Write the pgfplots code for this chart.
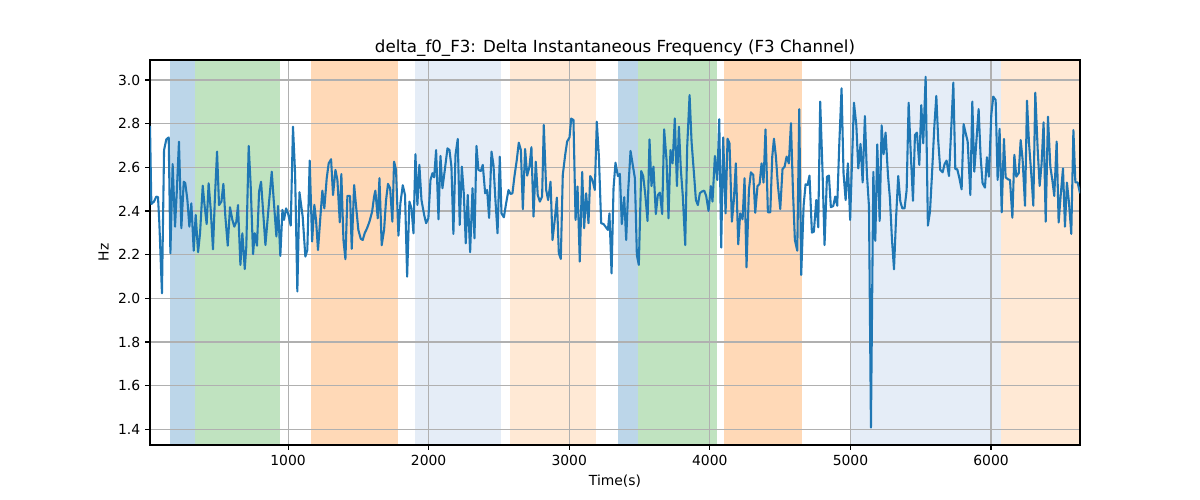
\documentclass[border=0pt]{standalone}
\usepackage{pgfplots}
\pgfplotsset{compat=1.18}
\usepackage{fontspec}
\setmainfont{DejaVu Sans}
\definecolor{tabblue}{RGB}{31,119,180}
\definecolor{spblue}{RGB}{188,214,233}
\definecolor{spgreen}{RGB}{192,227,192}
\definecolor{sporange}{RGB}{255,217,183}
\definecolor{splblue}{RGB}{229,237,247}
\definecolor{splorange}{RGB}{255,233,213}
\definecolor{gridgray}{RGB}{176,176,176}
\begin{document}
\begin{tikzpicture}
\begin{axis}[
  set layers,
  scale only axis, width=669.6pt, height=277.2pt,
  xmin=18, xmax=6633, ymin=1.328, ymax=3.0916,
  xtick={1000,2000,3000,4000,5000,6000},
  ytick={1.4,1.6,1.8,2.0,2.2,2.4,2.6,2.8,3.0},
  /pgf/number format/assume math mode=true,
  x tick label style={/pgf/number format/1000 sep={}},
  y tick label style={/pgf/number format/.cd, fixed, precision=1, fixed zerofill},
  tick label style={font=\fontsize{10}{12}\selectfont, text=black},
  label style={font=\fontsize{10}{12}\selectfont},
  title style={font=\fontsize{12}{14}\selectfont, yshift=-7.2pt},
  title={delta\_f0\_F3: Delta Instantaneous Frequency (F3 Channel)},
  xlabel={Time(s)}, ylabel={Hz},
  grid=major, grid style={gridgray, line width=0.8pt},
  axis line style={black, line width=0.8pt},
  tick align=outside, tick pos=left, major tick length=3.5pt,
  tick style={black, line width=0.8pt},
]
\addplot[fill=spblue, draw=none, on layer=axis background] coordinates {(158,1.328) (341,1.328) (341,3.0916) (158,3.0916)} -- cycle;
\addplot[fill=spgreen, draw=none, on layer=axis background] coordinates {(341,1.328) (943,1.328) (943,3.0916) (341,3.0916)} -- cycle;
\addplot[fill=sporange, draw=none, on layer=axis background] coordinates {(1161,1.328) (1785,1.328) (1785,3.0916) (1161,3.0916)} -- cycle;
\addplot[fill=splblue, draw=none, on layer=axis background] coordinates {(1901,1.328) (2518,1.328) (2518,3.0916) (1901,3.0916)} -- cycle;
\addplot[fill=splorange, draw=none, on layer=axis background] coordinates {(2580,1.328) (3187,1.328) (3187,3.0916) (2580,3.0916)} -- cycle;
\addplot[fill=spblue, draw=none, on layer=axis background] coordinates {(3346,1.328) (3488,1.328) (3488,3.0916) (3346,3.0916)} -- cycle;
\addplot[fill=spgreen, draw=none, on layer=axis background] coordinates {(3488,1.328) (4048,1.328) (4048,3.0916) (3488,3.0916)} -- cycle;
\addplot[fill=sporange, draw=none, on layer=axis background] coordinates {(4100,1.328) (4653,1.328) (4653,3.0916) (4100,3.0916)} -- cycle;
\addplot[fill=splblue, draw=none, on layer=axis background] coordinates {(5006,1.328) (6071,1.328) (6071,3.0916) (5006,3.0916)} -- cycle;
\addplot[fill=splorange, draw=none, on layer=axis background] coordinates {(6071,1.328) (6633,1.328) (6633,3.0916) (6071,3.0916)} -- cycle;
\addplot[tabblue, line width=1.5pt, line join=round, mark=none] table[row sep=\\] {
x y\\
18 2.79\\ 27.5 2.432\\ 46.5 2.443\\ 63 2.466\\ 75 2.463\\ 84.5 2.344\\ 103 2.023\\ 118 2.679\\ 134 2.728\\ 151 2.737\\
163 2.206\\ 179 2.615\\ 196 2.328\\ 208 2.481\\ 224 2.717\\ 241 2.321\\ 258 2.534\\ 269 2.527\\ 284 2.450\\ 298 2.328\\
312 2.435\\ 329 2.218\\ 343 2.382\\ 360 2.211\\ 374 2.298\\ 393 2.516\\ 407 2.420\\ 421 2.340\\ 435 2.527\\ 450 2.405\\
466 2.224\\ 480 2.466\\ 495 2.672\\ 509 2.427\\ 526 2.443\\ 540 2.524\\ 554 2.374\\ 571 2.241\\ 587 2.417\\ 604 2.359\\
618 2.328\\ 632 2.351\\ 644 2.427\\ 661 2.153\\ 675 2.298\\ 692 2.134\\ 703 2.237\\ 720 2.698\\ 734 2.519\\ 751 2.202\\
763 2.298\\ 779 2.241\\ 794 2.489\\ 808 2.534\\ 839 2.244\\ 862 2.420\\ 884 2.580\\ 898 2.450\\ 917 2.283\\ 929 2.423\\
945 2.194\\ 960 2.405\\ 971 2.359\\ 986 2.412\\ 1000 2.389\\ 1019 2.333\\ 1035 2.786\\ 1050 2.573\\ 1066 2.031\\ 1081 2.486\\
1104 2.374\\ 1123 2.191\\ 1137 2.221\\ 1154 2.631\\ 1171 2.260\\ 1187 2.428\\ 1199 2.359\\ 1213 2.221\\ 1230 2.374\\ 1244 2.493\\
1258 2.412\\ 1275 2.550\\ 1289 2.618\\ 1306 2.637\\ 1320 2.473\\ 1337 2.588\\ 1351 2.542\\ 1368 2.348\\ 1379 2.569\\ 1394 2.267\\
1408 2.179\\ 1422 2.469\\ 1441 2.469\\ 1453 2.227\\ 1470 2.519\\ 1484 2.420\\ 1500 2.313\\ 1517 2.273\\ 1531 2.267\\ 1545 2.298\\
1562 2.321\\ 1579 2.351\\ 1598 2.397\\ 1612 2.466\\ 1621 2.493\\ 1638 2.366\\ 1650 2.550\\ 1666 2.243\\ 1683 2.313\\ 1697 2.450\\
1711 2.524\\ 1726 2.504\\ 1742 2.351\\ 1754 2.626\\ 1768 2.588\\ 1785 2.287\\ 1799 2.435\\ 1816 2.518\\ 1832 2.473\\ 1847 2.099\\
1863 2.443\\ 1878 2.412\\ 1892 2.298\\ 1906 2.660\\ 1920 2.428\\ 1934 2.611\\ 1949 2.450\\ 1968 2.382\\ 1982 2.344\\ 1998 2.366\\
2013 2.542\\ 2027 2.573\\ 2039 2.554\\ 2053 2.679\\ 2070 2.362\\ 2084 2.652\\ 2098 2.504\\ 2112 2.573\\ 2134 2.687\\ 2148 2.679\\
2162 2.603\\ 2176 2.295\\ 2191 2.657\\ 2207 2.730\\ 2221 2.336\\ 2236 2.603\\ 2250 2.481\\ 2264 2.252\\ 2278 2.473\\ 2295 2.211\\
2312 2.504\\ 2326 2.275\\ 2340 2.698\\ 2354 2.588\\ 2371 2.583\\ 2385 2.611\\ 2402 2.481\\ 2416 2.496\\ 2430 2.368\\ 2447 2.672\\
2461 2.611\\ 2475 2.450\\ 2490 2.298\\ 2506 2.649\\ 2518 2.389\\ 2535 2.371\\ 2551 2.435\\ 2568 2.496\\ 2582 2.478\\ 2596 2.481\\
2610 2.557\\ 2627 2.634\\ 2641 2.713\\ 2656 2.679\\ 2670 2.408\\ 2686 2.684\\ 2701 2.562\\ 2717 2.603\\ 2731 2.692\\ 2746 2.374\\
2762 2.626\\ 2776 2.473\\ 2791 2.443\\ 2807 2.466\\ 2819 2.794\\ 2836 2.496\\ 2850 2.450\\ 2867 2.534\\ 2881 2.267\\ 2897 2.359\\
2912 2.461\\ 2926 2.206\\ 2940 2.180\\ 2954 2.565\\ 2971 2.656\\ 2985 2.718\\ 3002 2.737\\ 3014 2.823\\ 3030 2.817\\ 3045 2.359\\
3059 2.512\\ 3075 2.168\\ 3092 2.579\\ 3106 2.321\\ 3120 2.481\\ 3137 2.344\\ 3149 2.560\\ 3165 2.542\\ 3182 2.496\\ 3196 2.809\\
3211 2.649\\ 3227 2.344\\ 3244 2.340\\ 3258 2.328\\ 3275 2.313\\ 3286 2.389\\ 3301 2.114\\ 3315 2.504\\ 3329 2.621\\ 3346 2.560\\
3360 2.570\\ 3374 2.340\\ 3391 2.463\\ 3405 2.267\\ 3419 2.489\\ 3436 2.675\\ 3450 2.618\\ 3467 2.550\\ 3481 2.198\\ 3495 2.153\\
3512 2.583\\ 3526 2.560\\ 3540 2.481\\ 3557 2.354\\ 3571 2.728\\ 3585 2.514\\ 3599 2.603\\ 3616 2.386\\ 3630 2.473\\ 3645 2.484\\
3661 2.386\\ 3675 2.774\\ 3692 2.634\\ 3706 2.366\\ 3720 2.679\\ 3735 2.618\\ 3751 2.824\\ 3766 2.514\\ 3780 2.786\\ 3794 2.588\\
3808 2.466\\ 3825 2.244\\ 3839 2.695\\ 3856 2.931\\ 3870 2.718\\ 3887 2.573\\ 3901 2.450\\ 3915 2.427\\ 3929 2.481\\ 3943 2.489\\
3960 2.493\\ 3974 2.469\\ 3991 2.400\\ 4007 2.514\\ 4019 2.443\\ 4036 2.652\\ 4053 2.542\\ 4067 2.820\\ 4081 2.232\\ 4095 2.737\\
4112 2.389\\ 4126 2.731\\ 4140 2.710\\ 4157 2.351\\ 4171 2.450\\ 4185 2.618\\ 4202 2.247\\ 4216 2.389\\ 4233 2.362\\ 4247 2.550\\
4261 2.142\\ 4278 2.496\\ 4292 2.577\\ 4309 2.565\\ 4323 2.392\\ 4339 2.514\\ 4354 2.524\\ 4368 2.618\\ 4382 2.530\\ 4396 2.774\\
4413 2.394\\ 4430 2.394\\ 4444 2.649\\ 4456 2.731\\ 4470 2.649\\ 4484 2.519\\ 4501 2.409\\ 4517 2.592\\ 4532 2.603\\ 4546 2.649\\
4562 2.618\\ 4577 2.802\\ 4591 2.496\\ 4605 2.267\\ 4622 2.218\\ 4636 2.866\\ 4650 2.107\\ 4667 2.424\\ 4681 2.522\\ 4695 2.519\\
4709 2.562\\ 4726 2.301\\ 4740 2.305\\ 4757 2.450\\ 4771 2.325\\ 4785 2.901\\ 4802 2.573\\ 4816 2.244\\ 4833 2.557\\ 4847 2.562\\
4861 2.417\\ 4878 2.423\\ 4892 2.466\\ 4906 2.424\\ 4921 2.710\\ 4937 2.962\\ 4951 2.573\\ 4966 2.450\\ 4982 2.618\\ 4998 2.359\\
5025 2.896\\ 5042 2.794\\ 5056 2.595\\ 5072 2.707\\ 5087 2.531\\ 5103 2.835\\ 5117 2.573\\ 5132 2.420\\ 5146 1.408\\ 5163 2.579\\
5177 2.263\\ 5191 2.705\\ 5208 2.354\\ 5222 2.792\\ 5236 2.660\\ 5250 2.759\\ 5267 2.565\\ 5281 2.458\\ 5295 2.275\\ 5310 2.133\\
5324 2.359\\ 5340 2.560\\ 5355 2.443\\ 5369 2.412\\ 5385 2.412\\ 5400 2.496\\ 5414 2.896\\ 5428 2.682\\ 5445 2.447\\ 5459 2.748\\
5473 2.759\\ 5490 2.611\\ 5504 2.885\\ 5518 2.710\\ 5535 3.015\\ 5551 2.333\\ 5566 2.397\\ 5580 2.565\\ 5597 2.789\\ 5611 2.927\\
5625 2.718\\ 5639 2.588\\ 5656 2.577\\ 5670 2.615\\ 5684 2.631\\ 5701 2.560\\ 5715 2.748\\ 5732 2.988\\ 5746 2.592\\ 5760 2.591\\
5774 2.553\\ 5791 2.499\\ 5805 2.798\\ 5819 2.759\\ 5834 2.718\\ 5853 2.473\\ 5867 2.901\\ 5881 2.580\\ 5895 2.710\\ 5912 2.867\\
5926 2.649\\ 5940 2.527\\ 5957 2.507\\ 5971 2.646\\ 5985 2.557\\ 6002 2.840\\ 6016 2.924\\ 6033 2.908\\ 6047 2.542\\ 6061 2.776\\
6076 2.394\\ 6092 2.730\\ 6104 2.554\\ 6121 2.545\\ 6135 2.542\\ 6152 2.369\\ 6166 2.657\\ 6180 2.557\\ 6197 2.573\\ 6211 2.725\\
6225 2.634\\ 6242 2.424\\ 6256 2.905\\ 6270 2.713\\ 6287 2.565\\ 6301 2.424\\ 6315 2.942\\ 6332 2.682\\ 6346 2.515\\ 6360 2.618\\
6374 2.806\\ 6389 2.351\\ 6405 2.832\\ 6422 2.603\\ 6436 2.542\\ 6450 2.469\\ 6467 2.718\\ 6481 2.347\\ 6495 2.466\\ 6512 2.595\\
6526 2.328\\ 6540 2.530\\ 6555 2.435\\ 6571 2.295\\ 6586 2.771\\ 6600 2.531\\ 6616 2.531\\ 6633 2.481\\
};
\end{axis}
\path (current axis.south west) ++(-108pt,-39.6pt) rectangle ([xshift=86.4pt,yshift=43.2pt]current axis.north east);
\end{tikzpicture}
\end{document}
